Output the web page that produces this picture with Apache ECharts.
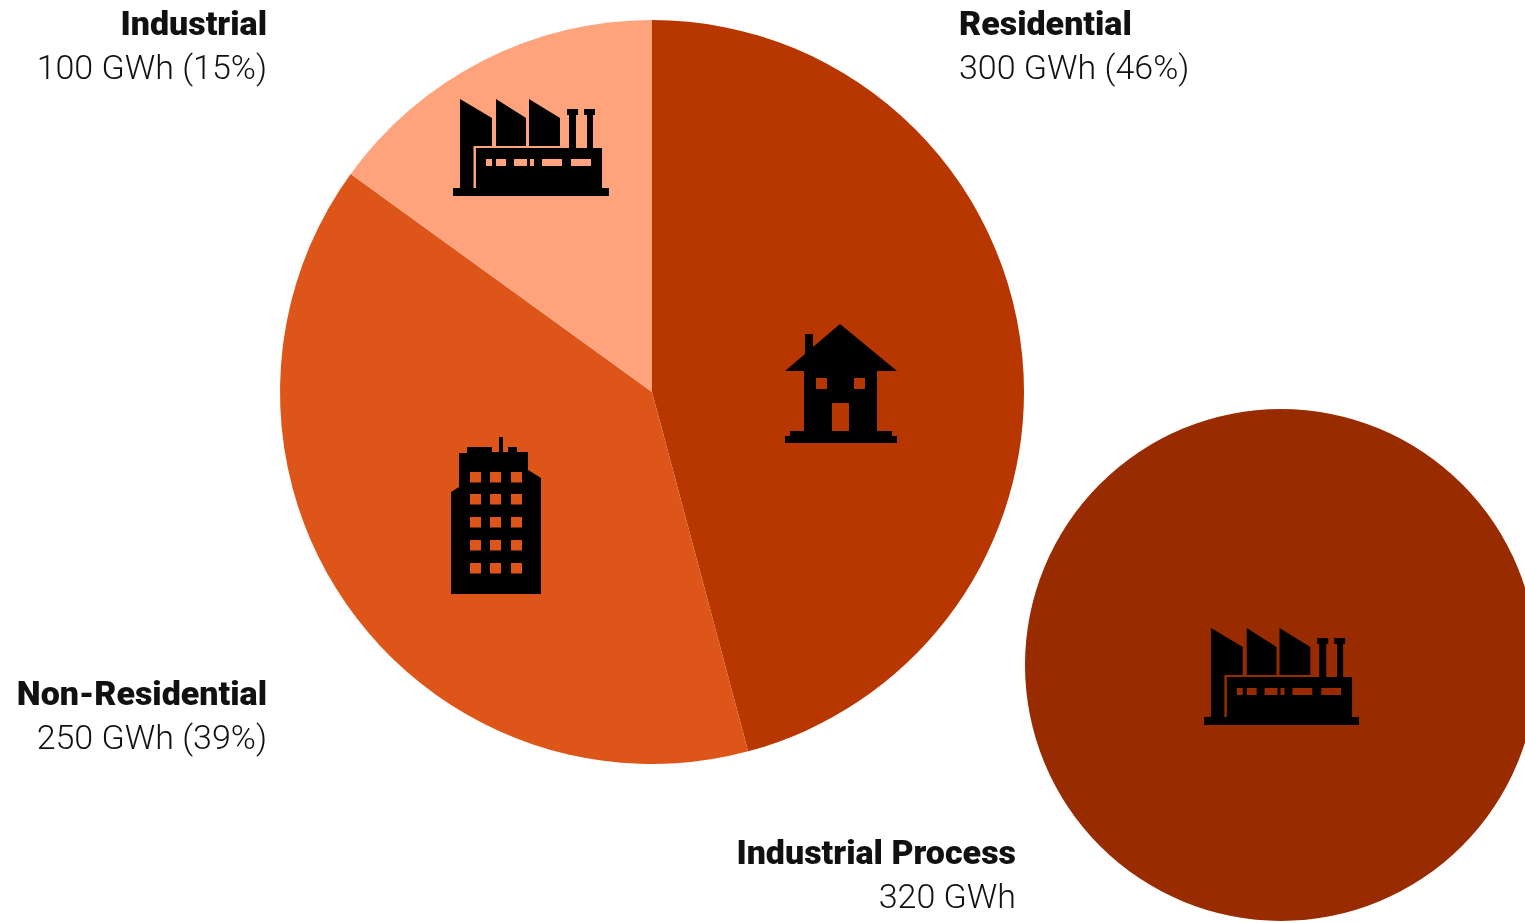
<!DOCTYPE html>
<html><head><meta charset="utf-8">
<style>html,body{margin:0;padding:0;background:#fff;overflow:hidden}#c{width:1525px;height:923px}</style>
<script src="https://cdn.jsdelivr.net/npm/echarts@6/dist/echarts.min.js"></script>
</head><body><div id="c"></div>
<script>
const categories = ['Residential', 'Non-Residential', 'Industrial'];
const energyGWh = [300, 250, 100];
const sharePercent = [45.84, 39.13, 15.03];
const processCategory = 'Industrial Process';
const processGWh = 320;

const COL = {res:'#B83700', non:'#DE5519', ind:'#FFA37D', proc:'#982B00'};
const FONT = 'Roboto';
const MAIN_LABELS = [
  {x:959, y:4, align:'left'},
  {x:267, y:674, align:'right'},
  {x:267, y:4, align:'right'}
];
const PROCESS_LABELS = [{x:1016, y:833, align:'right'}];
const rich = a => ({
  b:{fontFamily:FONT,fontWeight:900,fontSize:34,lineHeight:44,color:'#111',align:a},
  v:{fontFamily:FONT,fontWeight:300,fontSize:34,lineHeight:44,color:'#111',align:a}
});
const layoutFrom = arr => p => {
  const pos = arr[p.dataIndex];
  return {x:pos.x, y:pos.y, align:pos.align, verticalAlign:'top', hideOverlap:false, moveOverlap:false};
};
const baseSeries = {
  type:'pie', startAngle:90, silent:true, animation:false, avoidLabelOverlap:false,
  labelLine:{show:false}, emphasis:{disabled:true}
};
const mainColors = [COL.res, COL.non, COL.ind];

const factoryPath = [
  'M460 99L492 118L492 146L473.5 146L473.5 188L460 188Z',
  'M496 99L526 118L526 146L496 146Z',
  'M529 99L560 118L560 146L529 146Z',
  'M567 109L578 109L578 115L576 115L576 148L569 148L569 115L567 115Z',
  'M584 109L595 109L595 115L593 115L593 148L587 148L587 115L584 115Z',
  'M476 148L602 148L602 188L476 188Z',
  'M453 188L609 188L609 196L453 196Z',
  'M486 159L486 166L492 166L492 159Z',
  'M496 159L496 166L506 166L506 159Z',
  'M514 159L514 166L527 166L527 159Z',
  'M530 159L530 166L534 166L534 159Z',
  'M542 159L542 166L562 166L562 159Z',
  'M571 159L571 166L591 166L591 159Z'
].join('');
const housePath = [
  'M840 324L897 371L877 371L877 431L892 431L892 436L897 436L897 443L785 443L785 436L790 436L790 431L804 431L804 371L785 371L805 354L805 334L813 334L813 347Z',
  'M816 378L816 389L827 389L827 378Z',
  'M854 378L854 389L865 389L865 378Z',
  'M832 403L832 431L849 431L849 403Z'
].join('');
const bx = [470,490,511], by = [472,494,517,540,563];
let buildingPath = 'M451 594L451 492L459 487L459 453L467 453L467 447L492 447L492 452L499 452L499 437L503 437L503 452L508 452L508 447L517 447L517 452L528 452L528 470L541 478L541 594Z';
by.forEach(y => bx.forEach(x => {
  buildingPath += `M${x} ${y}L${x} ${y+10.5}L${x+11} ${y+10.5}L${x+11} ${y}Z`;
}));
const icon = (d, rect) => ({
  type:'path', silent:true,
  shape:{pathData:d, x:rect[0], y:rect[1], width:rect[2], height:rect[3], layout:'cover'},
  style:{fill:'#000'}
});
const iconSeries = {
  type:'custom', coordinateSystem:'none', silent:true, animation:false, z:5,
  data:[0],
  renderItem:()=>({type:'group', children:[
    icon(factoryPath,[453,99,156,97]),
    icon(housePath,[785,324,112,119]),
    icon(buildingPath,[451,437,90,157]),
    icon(factoryPath,[1204,628,155,97])
  ]})
};
const option = {
  backgroundColor:'#fff',
  series:[
    Object.assign({}, baseSeries, {
      center:[652,392], radius:[0,372], labelLayout:layoutFrom(MAIN_LABELS),
      data:categories.map((c,i)=>({name:c, value:sharePercent[i], itemStyle:{color:mainColors[i]},
        label:{rich:rich(MAIN_LABELS[i].align)}})),
      label:{show:true, position:'outside',
        formatter:p=>`{b|${p.name}}\n{v|${energyGWh[p.dataIndex]} GWh (${Math.round(sharePercent[p.dataIndex])}%)}`}
    }),
    Object.assign({}, baseSeries, {
      center:[1281,665], radius:[0,256], labelLayout:layoutFrom(PROCESS_LABELS),
      data:[{name:processCategory, value:processGWh, itemStyle:{color:COL.proc}}],
      label:{show:true, position:'outside', rich:rich('right'),
        formatter:p=>`{b|${p.name}}\n{v|${processGWh} GWh}`}
    }),
    iconSeries
  ]
};
const chart = echarts.init(document.getElementById('c'), null, {renderer:'canvas'});
chart.setOption(option);
</script></body></html>
